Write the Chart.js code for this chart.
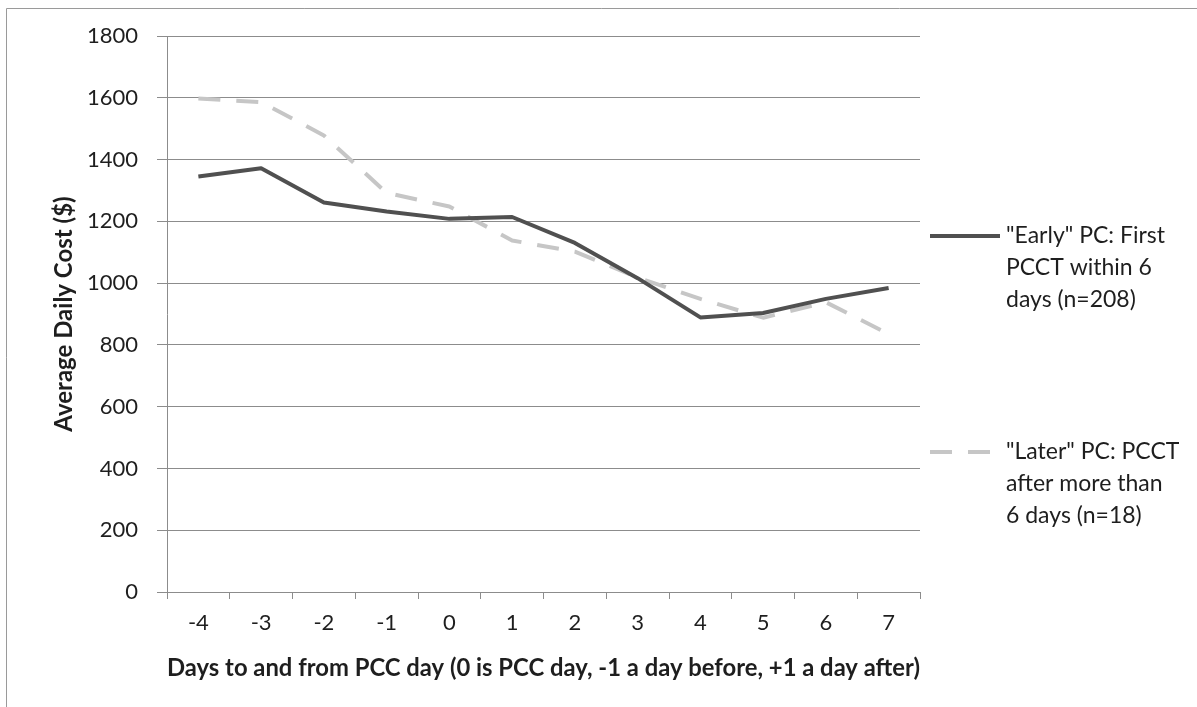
<!DOCTYPE html>
<html>
<head>
<meta charset="utf-8">
<script src="https://cdn.jsdelivr.net/npm/chart.js@4.4.0/dist/chart.umd.min.js"></script>
<style>
  html, body { margin: 0; padding: 0; background: #ffffff; }
  #wrap { width: 1197px; height: 707px; }
</style>
</head>
<body>
<div id="wrap"><canvas id="c" width="1197" height="707"></canvas></div>
<script>
const categories = ['-4', '-3', '-2', '-1', '0', '1', '2', '3', '4', '5', '6', '7'];
const earlyValues = [1345, 1372, 1261, 1232, 1208, 1214, 1130, 1016, 889, 903, 949, 984];
const laterValues = [1598, 1586, 1478, 1292, 1248, 1138, 1102, 1018, 949, 888, 938, 835];
const earlyLabel = ['"Early" PC: First', 'PCCT within 6', 'days (n=208)'];
const laterLabel = ['"Later" PC: PCCT', 'after more than', '6 days (n=18)'];
const yTitle = 'Average Daily Cost ($)';
const xTitle = 'Days to and from PCC day (0 is PCC day, -1 a day before, +1 a day after)';
const yMin = 0, yMax = 1800, yStep = 200;

const FONT = 'Lato, "Open Sans", sans-serif';
const TEXT = '#1e1e1e';
const GRID = '#8c8c8c';

const framePlugin = {
  id: 'frame',
  beforeDraw(chart) {
    const ctx = chart.ctx;
    ctx.save();
    ctx.fillStyle = '#ffffff';
    ctx.fillRect(0, 0, chart.width, chart.height);
    ctx.strokeStyle = '#9a9a9a';
    ctx.lineWidth = 1;
    ctx.beginPath();
    ctx.moveTo(6.5, chart.height);
    ctx.lineTo(6.5, 8.5);
    ctx.lineTo(chart.width, 8.5);
    ctx.stroke();
    ctx.restore();
  }
};

const sideLegend = {
  id: 'sideLegend',
  afterDraw(chart) {
    const ctx = chart.ctx;
    const items = [
      { lines: earlyLabel, y: 236, x0: 930, x1: 1000 },
      { lines: laterLabel, y: 452, x0: 930, x1: 990 }
    ];
    ctx.save();
    chart.data.datasets.forEach((ds, i) => {
      const it = items[i];
      ctx.strokeStyle = ds.borderColor;
      ctx.lineWidth = ds.borderWidth;
      ctx.setLineDash(ds.borderDash || []);
      ctx.lineCap = 'butt';
      ctx.beginPath();
      ctx.moveTo(it.x0, it.y);
      ctx.lineTo(it.x1, it.y);
      ctx.stroke();
      ctx.setLineDash([]);
      ctx.fillStyle = TEXT;
      ctx.font = '23px ' + FONT;
      ctx.textAlign = 'left';
      ctx.textBaseline = 'middle';
      it.lines.forEach((t, j) => ctx.fillText(t, 1006, it.y + j * 32));
    });
    ctx.restore();
  }
};

new Chart(document.getElementById('c'), {
  type: 'line',
  data: {
    labels: categories,
    datasets: [
      {
        label: earlyLabel.join(' '),
        data: earlyValues,
        borderColor: '#505050',
        borderWidth: 4,
        pointRadius: 0,
        tension: 0,
        borderJoinStyle: 'round',
        fill: false
      },
      {
        label: laterLabel.join(' '),
        data: laterValues,
        borderColor: '#c6c6c6',
        borderWidth: 4,
        borderDash: [22, 16],
        pointRadius: 0,
        tension: 0,
        borderJoinStyle: 'round',
        fill: false
      }
    ]
  },
  options: {
    responsive: false,
    animation: false,
    layout: { padding: { left: 0, right: 277, top: 36, bottom: 0 } },
    plugins: {
      legend: { display: false },
      tooltip: { enabled: false }
    },
    scales: {
      x: {
        type: 'category',
        offset: true,
        grid: { offset: true, drawOnChartArea: false, drawTicks: true, tickLength: 7, color: GRID, lineWidth: 1 },
        border: { color: GRID, width: 1 },
        ticks: { font: { family: FONT, size: 22 }, color: TEXT, padding: 11, maxRotation: 0, autoSkip: false },
        title: { display: true, text: xTitle, color: TEXT, font: { family: FONT, size: 24, weight: 'bold' }, padding: { top: 0, bottom: 24 } },
        afterFit(s) { s.height = 115; }
      },
      y: {
        min: yMin,
        max: yMax,
        grid: { color: GRID, lineWidth: 1, tickLength: 10 },
        border: { color: GRID, width: 1 },
        ticks: { stepSize: yStep, font: { family: FONT, size: 22 }, color: TEXT, padding: 19,
                 callback: (v) => String(v) },
        title: { display: true, text: yTitle, color: TEXT, font: { family: FONT, size: 24, weight: 'bold' }, padding: { top: 50, bottom: 0 } },
        afterFit(s) { s.width = 167; }
      }
    }
  },
  plugins: [framePlugin, sideLegend]
});
</script>
</body>
</html>
